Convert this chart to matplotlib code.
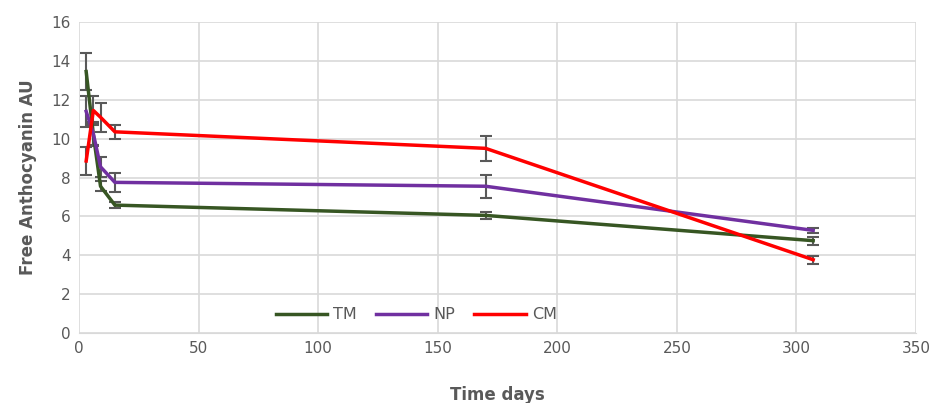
import matplotlib.pyplot as plt
from matplotlib.lines import Line2D

days = [3, 6, 9, 15, 170, 307]
tm = [13.45, 10.2, 7.55, 6.58, 6.05, 4.75]
tm_err = [0.95, 0.6, 0.25, 0.15, 0.2, 0.2]
np_ = [11.4, 10.25, 8.55, 7.75, 7.55, 5.28]
np_err = [0.8, 0.6, 0.5, 0.5, 0.6, 0.12]
cm = [8.85, 11.45, 11.1, 10.35, 9.5, 3.77]
cm_err = [0.7, 0.75, 0.75, 0.35, 0.65, 0.2]

series = [("TM", tm, tm_err, "#375623"), ("NP", np_, np_err, "#7030A0"), ("CM", cm, cm_err, "#FF0000")]

fig = plt.figure(figsize=(9.35, 4.03), dpi=100)
ax = fig.add_axes([79/935, 1-333/403, (916-79)/935, (333-22)/403])

handles = []
for name, vals, err, col in series:
    ax.errorbar(days, vals, yerr=err, color=col, lw=2.5,
                ecolor="#595959", elinewidth=1.5, capsize=4, capthick=1.5, zorder=3)
    handles.append(Line2D([], [], color=col, lw=2.5, label=name))

ax.set_xlim(0, 350)
ax.set_ylim(0, 16)
ax.set_xticks(range(0, 351, 50))
ax.set_yticks(range(0, 17, 2))
ax.grid(True, color="#D9D9D9", lw=1.2)
ax.set_axisbelow(True)
for s in ["top", "right", "left"]:
    ax.spines[s].set_visible(False)
ax.spines["bottom"].set_color("#D9D9D9")
ax.tick_params(length=0, colors="#595959", labelsize=11, pad=6)
ax.set_xlabel("Time days", fontsize=12, fontweight="bold", color="#595959", labelpad=21)
ax.set_ylabel("Free Anthocyanin AU", fontsize=12, fontweight="bold", color="#595959", labelpad=10)
ax.legend(handles=handles, loc="lower center", bbox_to_anchor=(0.403, -0.012), ncol=3, frameon=False,
          fontsize=11.5, labelcolor="#595959", handlelength=3.2, columnspacing=1.2, handletextpad=0.4)

fig.savefig("out.png")
